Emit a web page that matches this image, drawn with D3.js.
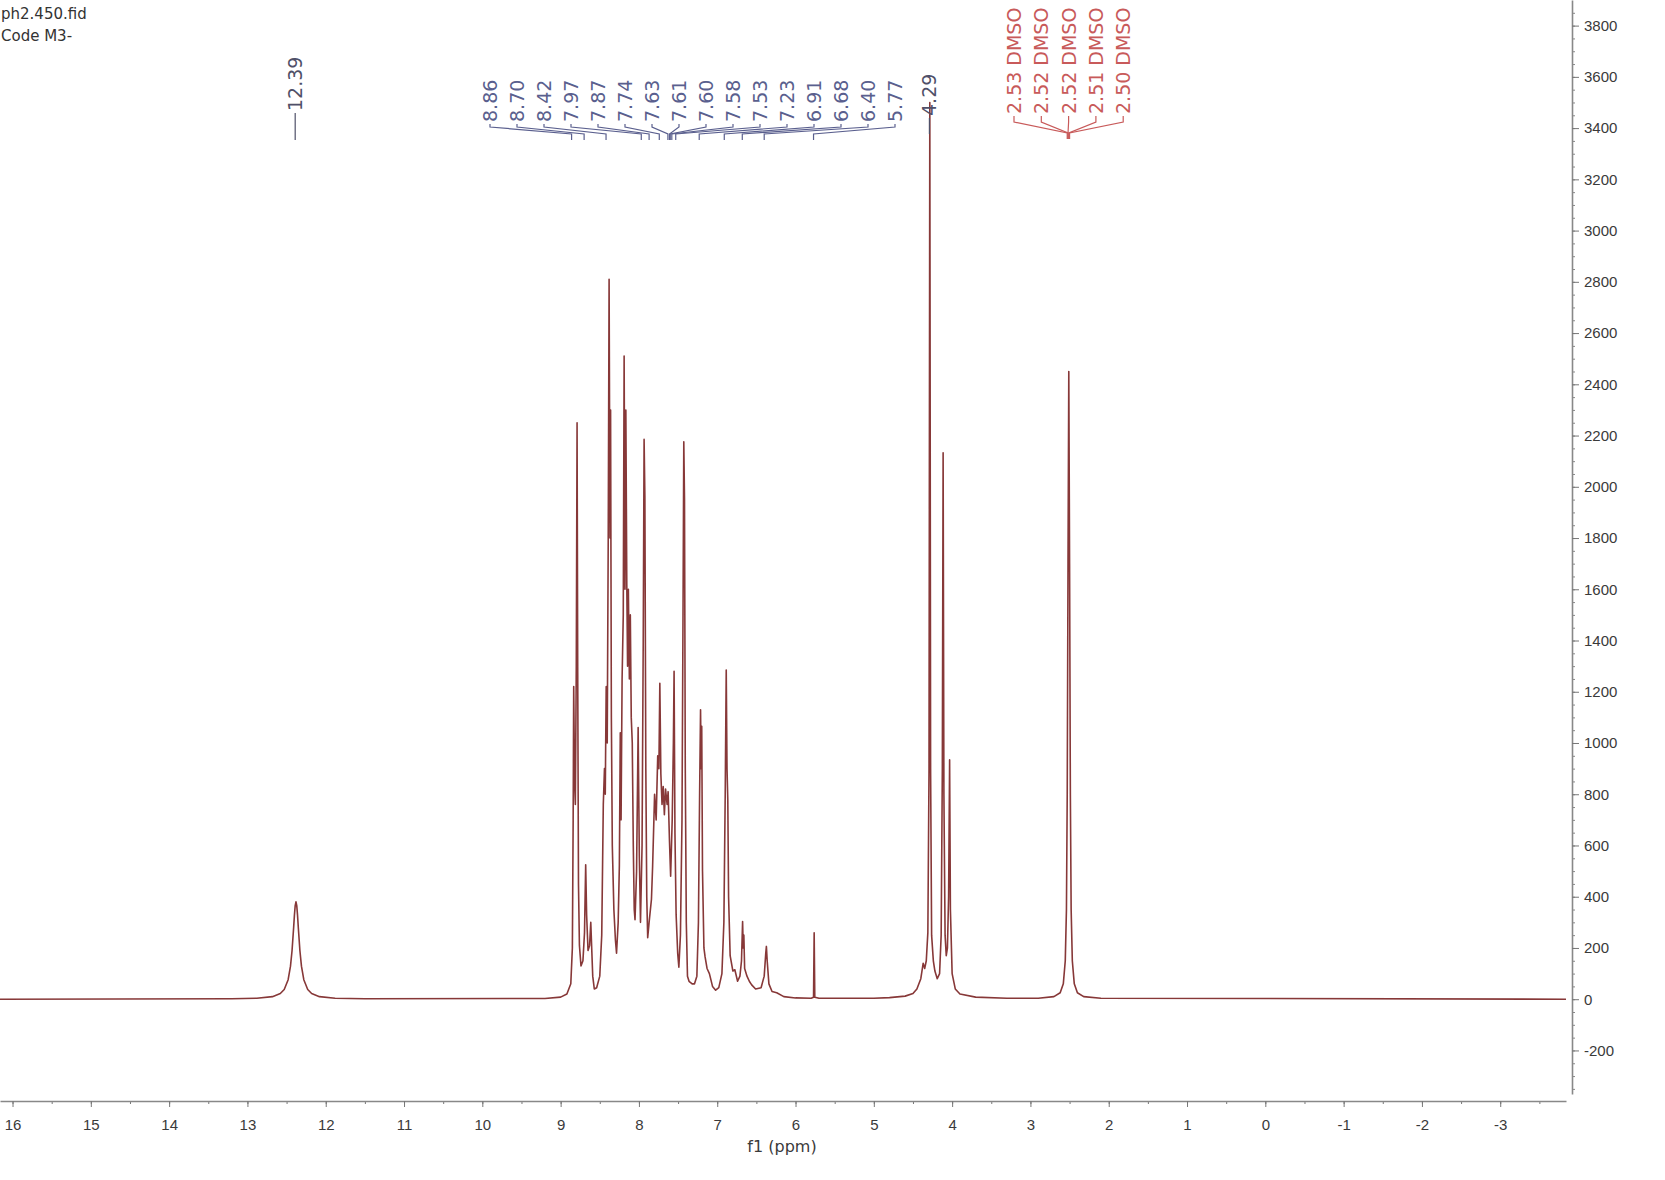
<!DOCTYPE html>
<html>
<head>
<meta charset="utf-8">
<script src="https://cdn.jsdelivr.net/npm/d3@7"></script>
<style>
  body { margin: 0; background: #fff; }
  svg { display: block; font-family: "DejaVu Sans", Verdana, sans-serif; }
</style>
</head>
<body>
<div id="spectrum"></div>
<script>
// tick labels
const xTicks = [16, 15, 14, 13, 12, 11, 10, 9, 8, 7, 6, 5, 4, 3, 2, 1, 0, -1, -2, -3]
const yTicks = [-200, 0, 200, 400, 600, 800, 1000, 1200, 1400, 1600, 1800, 2000,
                2200, 2400, 2600, 2800, 3000, 3200, 3400, 3600, 3800]

// spectrum trace: [ppm, intensity]
const lowField = [
  [16.16, 0], [13.2, 2], [12.88, 4], [12.68, 10], [12.58, 22], [12.53, 38], [12.48, 76],
  [12.45, 129], [12.43, 190], [12.41, 279], [12.40, 327], [12.39, 365], [12.38, 380],
  [12.37, 365], [12.36, 327], [12.35, 279], [12.33, 190], [12.31, 129], [12.28, 76],
  [12.23, 38], [12.18, 22], [12.08, 10], [11.88, 4], [11.5, 2], [9.2, 3]
]

const aromatic = [
  [9.00, 8], [8.92, 20], [8.87, 60], [8.85, 200], [8.84, 700], [8.833, 1220], [8.822, 850],
  [8.812, 760], [8.80, 1300], [8.79, 2250], [8.782, 1300], [8.772, 450], [8.76, 210],
  [8.74, 130], [8.715, 150], [8.695, 260], [8.68, 525], [8.668, 330], [8.65, 190],
  [8.63, 210], [8.615, 300], [8.602, 190], [8.59, 90], [8.57, 40], [8.54, 45], [8.50, 90],
  [8.475, 250], [8.455, 760], [8.44, 900], [8.43, 800], [8.418, 1220], [8.405, 1000],
  [8.392, 1800], [8.381, 2810], [8.37, 1800], [8.362, 2300], [8.352, 1100], [8.34, 600],
  [8.32, 350], [8.30, 230], [8.286, 180], [8.265, 300], [8.25, 520], [8.238, 1040],
  [8.228, 700], [8.215, 1250], [8.20, 1500], [8.189, 2510], [8.178, 1600], [8.167, 2300],
  [8.155, 1620], [8.145, 1300], [8.135, 1600], [8.122, 1250], [8.11, 1500], [8.098, 1100],
  [8.085, 1000], [8.072, 600], [8.06, 350], [8.05, 310], [8.03, 500], [8.01, 1060],
  [7.995, 560], [7.98, 300], [7.96, 600], [7.945, 1400], [7.934, 2185], [7.924, 1960],
  [7.912, 900], [7.90, 400], [7.888, 240], [7.87, 300], [7.84, 390], [7.825, 520],
  [7.80, 800], [7.78, 700], [7.76, 950], [7.745, 900], [7.733, 1233], [7.72, 880],
  [7.705, 760], [7.69, 830], [7.675, 720], [7.66, 820], [7.64, 760], [7.627, 810],
  [7.61, 620], [7.595, 480], [7.575, 700], [7.56, 1000], [7.551, 1280], [7.54, 650],
  [7.525, 330], [7.505, 180], [7.49, 125], [7.47, 250], [7.45, 700], [7.437, 1500],
  [7.427, 2176], [7.418, 1950], [7.408, 900], [7.395, 300], [7.38, 90], [7.36, 70],
  [7.32, 60], [7.29, 60], [7.26, 90], [7.24, 300], [7.225, 800], [7.213, 1130],
  [7.205, 900], [7.198, 1065], [7.188, 500], [7.17, 200], [7.155, 165], [7.13, 120],
  [7.10, 100], [7.06, 50], [7.02, 35], [6.98, 45], [6.94, 100], [6.915, 300], [6.898, 800],
  [6.885, 1285], [6.875, 900], [6.865, 777], [6.855, 400], [6.835, 170], [6.80, 110],
  [6.775, 115], [6.74, 70], [6.71, 90], [6.69, 150], [6.676, 303], [6.668, 200],
  [6.66, 250], [6.65, 120], [6.62, 90], [6.59, 70], [6.56, 56], [6.51, 40], [6.44, 45],
  [6.40, 90], [6.38, 180], [6.372, 206], [6.362, 150], [6.34, 60], [6.30, 30], [6.24, 25],
  [6.15, 10], [6.00, 5], [5.80, 4], [5.77, 8], [5.762, 259], [5.754, 8], [5.70, 4], [5.00, 4]
]

const aliphatic = [
  [4.80, 6], [4.60, 12], [4.50, 22], [4.45, 40], [4.40, 80], [4.37, 140], [4.35, 120],
  [4.33, 150], [4.31, 260], [4.295, 900], [4.285, 3500], [4.275, 900], [4.262, 250],
  [4.24, 150], [4.22, 110], [4.19, 80], [4.16, 100], [4.14, 250], [4.125, 900],
  [4.115, 2133], [4.105, 800], [4.09, 250], [4.075, 170], [4.06, 200], [4.045, 400],
  [4.032, 934], [4.022, 350], [4.00, 100], [3.96, 40], [3.90, 20], [3.70, 8], [3.30, 4]
]

const solvent = [
  [2.90, 4], [2.70, 10], [2.62, 25], [2.58, 60], [2.555, 150], [2.54, 350], [2.53, 800],
  [2.52, 1700], [2.51, 2450], [2.50, 1700], [2.49, 800], [2.48, 350], [2.465, 150],
  [2.44, 60], [2.40, 25], [2.32, 10], [2.10, 4], [-3.84, 0]
]

// peak labels
const nhLabel = [12.39]
const aromaticLabels = [8.86, 8.70, 8.42, 7.97, 7.87, 7.74, 7.63, 7.61, 7.60, 7.58, 7.53, 7.23, 6.91, 6.68, 6.40, 5.77]
const ch2Label = [4.29]
const dmsoLabels = [2.53, 2.52, 2.52, 2.51, 2.50]

const headerLines = ["ph2.450.fid", "Code M3-"]

const drawSpectrum = () => {

    const W = 1665, H = 1180
    const axisY = 1101, axisX = 1572

    const svg = d3.select("#spectrum")
        .append("svg")
        .attr("width", W)
        .attr("height", H)

    const x = d3.scaleLinear().domain([16.16, -3.84]).range([0, 1566])
    const y = d3.scaleLinear().domain([-370, 3900]).range([1094, 0])

    // x axis (ppm, reversed)
    svg.append("g")
        .attr("transform", "translate(0," + axisY + ")")
        .call(d3.axisBottom(x).tickValues(d3.range(16, -3.9, -0.5)).tickSize(3).tickSizeOuter(0).tickFormat(""))
        .call(g => g.select(".domain").remove())
        .selectAll("line").attr("stroke", "#777")

    const xAxis = svg.append("g")
        .attr("transform", "translate(0," + axisY + ")")
        .call(d3.axisBottom(x).tickValues(xTicks).tickSize(6).tickSizeOuter(0).tickPadding(12).tickFormat(d => String(d)))
    xAxis.select(".domain").attr("stroke", "#888").attr("stroke-width", 1.6)
    xAxis.selectAll("line").attr("stroke", "#777")
    xAxis.selectAll("text").attr("font-size", "15px").attr("fill", "#3a3a3a")

    svg.append("text")
        .text("f1 (ppm)")
        .attr("x", 782)
        .attr("y", 1152)
        .attr("text-anchor", "middle")
        .attr("font-size", "16px")
        .attr("fill", "#3a3a3a")

    // y axis on the right
    svg.append("g")
        .attr("transform", "translate(" + axisX + ",0)")
        .call(d3.axisRight(y).tickValues(d3.range(-350, 3900, 50)).tickSize(3).tickSizeOuter(0).tickFormat(""))
        .call(g => g.select(".domain").remove())
        .selectAll("line").attr("stroke", "#888")

    const yAxis = svg.append("g")
        .attr("transform", "translate(" + axisX + ",0)")
        .call(d3.axisRight(y).tickValues(yTicks).tickSize(7).tickSizeOuter(0).tickPadding(5).tickFormat(d => String(d)))
    yAxis.select(".domain").attr("stroke", "#888").attr("stroke-width", 1.6)
    yAxis.selectAll("line").attr("stroke", "#777")
    yAxis.selectAll("text").attr("font-size", "15px").attr("fill", "#3a3a3a")

    // the trace
    const trace = [...lowField, ...aromatic, ...aliphatic, ...solvent]
    const line = d3.line().x(d => x(d[0])).y(d => y(d[1]))

    svg.append("path")
        .datum(trace)
        .attr("d", line)
        .attr("fill", "none")
        .attr("stroke", "#873838")
        .attr("stroke-width", 1.6)
        .attr("stroke-linejoin", "round")

    // stacked peak labels, MestReNova style
    const labelGroup = (values, opts) => {
        const g = svg.append("g")
        values.forEach((ppm, i) => {
            const lx = opts.start + i * opts.step
            const px = x(ppm)
            g.append("path")
                .attr("d", "M" + lx + "," + opts.y0 + "V" + opts.y1 + "L" + px + "," + opts.y2 + "V" + opts.y3)
                .attr("fill", "none")
                .attr("stroke", opts.color)
                .attr("stroke-width", 1.2)
            g.append("text")
                .text(ppm.toFixed(2) + (opts.suffix || ""))
                .attr("transform", "translate(" + (lx + 7) + "," + (opts.y0 - 2) + ") rotate(-90)")
                .attr("font-size", opts.size)
                .attr("fill", opts.color)
        })
    }

    labelGroup(nhLabel, {start: x(12.39), step: 0, y0: 113, y1: 113, y2: 113, y3: 140, color: "#4f5068", size: "19px"})
    labelGroup(aromaticLabels, {start: 490, step: 27, y0: 124, y1: 127, y2: 134, y3: 140, color: "#5a5f8e", size: "19px"})
    labelGroup(ch2Label, {start: x(4.29), step: 0, y0: 118, y1: 121, y2: 128, y3: 134, color: "#4f5068", size: "19px"})
    labelGroup(dmsoLabels, {start: 1014, step: 27.3, y0: 116, y1: 122, y2: 133, y3: 139, color: "#c85a5a", size: "19px", suffix: " DMSO"})

    // file header, top left
    svg.selectAll(".header")
        .data(headerLines)
        .enter()
        .append("text")
        .attr("class", "header")
        .text(d => d)
        .attr("x", 1)
        .attr("y", (d, i) => 19 + i * 22)
        .attr("font-size", "15px")
        .attr("fill", "#333")

}

drawSpectrum()
</script>
</body>
</html>
